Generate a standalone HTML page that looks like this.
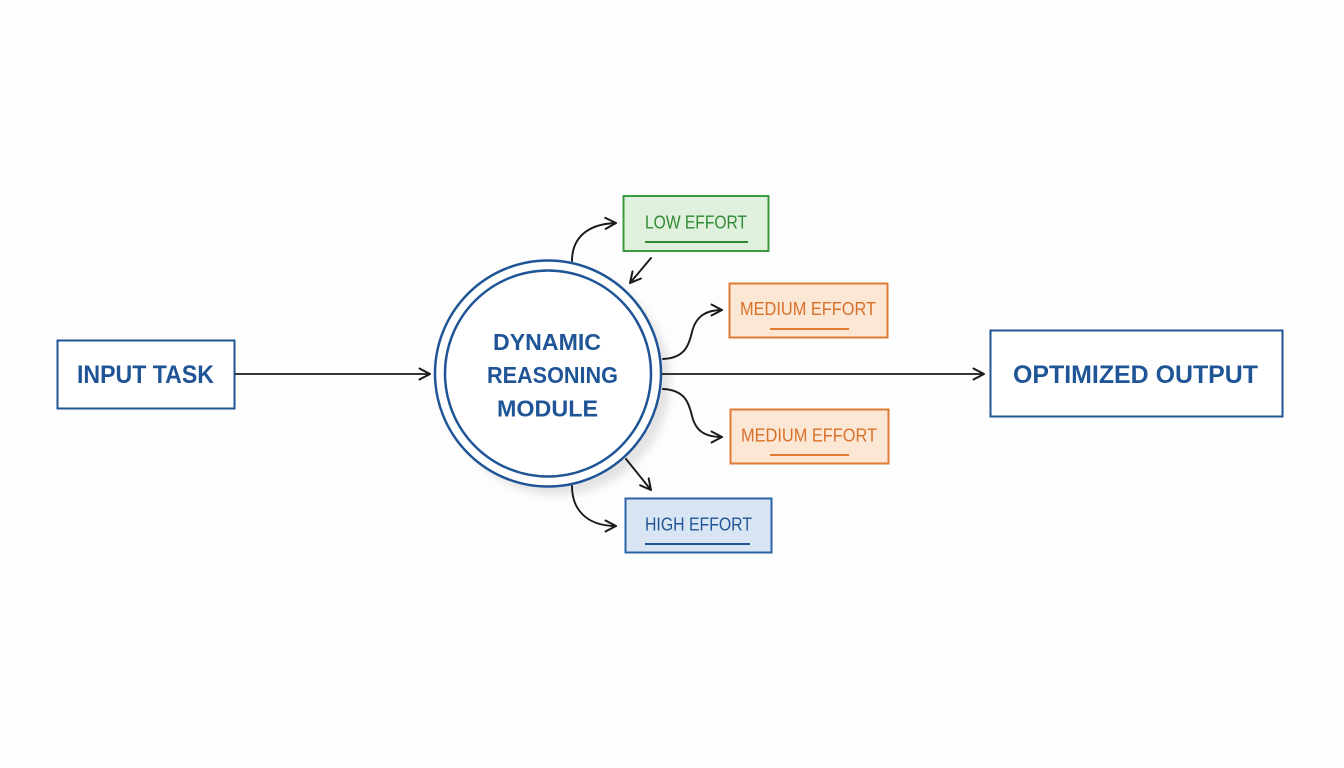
<!DOCTYPE html>
<html><head><meta charset="utf-8"><style>
html,body{margin:0;padding:0;background:#fdfdfd;}
svg{display:block;}
text{font-family:"Liberation Sans",sans-serif;}
</style></head><body>
<svg width="1344" height="768" viewBox="0 0 1344 768" xmlns="http://www.w3.org/2000/svg">
<defs>
<marker id="ah" viewBox="0 0 14 14" refX="12" refY="7" markerWidth="14" markerHeight="14" markerUnits="userSpaceOnUse" orient="auto">
<path d="M1.5,1.5 L12,7 L1.5,12.5" fill="none" stroke="#1a1a1a" stroke-width="2" stroke-linecap="round" stroke-linejoin="round"/>
</marker>
<filter id="blur" x="-20%" y="-20%" width="140%" height="140%"><feGaussianBlur stdDeviation="4"/></filter>
</defs>
<rect width="1344" height="768" fill="#fdfdfd"/>

<!-- Input task -->
<rect x="57.5" y="340.5" width="177" height="68" fill="#fff" stroke="#1f5596" stroke-width="2"/>
<text x="77" y="383" font-size="25" font-weight="bold" fill="#1f5596" textLength="137" lengthAdjust="spacingAndGlyphs">INPUT TASK</text>
<line x1="235" y1="374" x2="430" y2="374" stroke="#1a1a1a" stroke-width="1.8" marker-end="url(#ah)"/>

<!-- circle shadow -->
<circle cx="557" cy="382" r="113" fill="#e3e3e3" filter="url(#blur)"/>
<circle cx="548" cy="373.5" r="113" fill="#fff" stroke="#1f5596" stroke-width="2.5"/>
<circle cx="548" cy="373.5" r="103" fill="#fff" stroke="#1f5596" stroke-width="2.5"/>
<text x="493" y="350" font-size="23" font-weight="bold" fill="#1f5596" textLength="108" lengthAdjust="spacingAndGlyphs">DYNAMIC</text>
<text x="487" y="383" font-size="23" font-weight="bold" fill="#1f5596" textLength="131" lengthAdjust="spacingAndGlyphs">REASONING</text>
<text x="497" y="416.5" font-size="23" font-weight="bold" fill="#1f5596" textLength="101" lengthAdjust="spacingAndGlyphs">MODULE</text>

<!-- output arrow -->
<line x1="662" y1="374" x2="984" y2="374" stroke="#1a1a1a" stroke-width="1.8" marker-end="url(#ah)"/>

<!-- Optimized output -->
<rect x="990.5" y="330.5" width="292" height="86" fill="#fff" stroke="#1f5596" stroke-width="2"/>
<text x="1013" y="383" font-size="25" font-weight="bold" fill="#1f5596" textLength="245" lengthAdjust="spacingAndGlyphs">OPTIMIZED OUTPUT</text>

<!-- Low effort -->
<rect x="623.5" y="196" width="145" height="55" fill="#dff0dc" stroke="#3b9b3f" stroke-width="2"/>
<text x="645" y="228.5" font-size="18" fill="#2f8a33" textLength="102" lengthAdjust="spacingAndGlyphs">LOW EFFORT</text>
<line x1="645" y1="242" x2="748" y2="242" stroke="#2f8a33" stroke-width="2"/>

<!-- Medium 1 -->
<rect x="729.5" y="283.5" width="158" height="54" fill="#fce6d4" stroke="#e07b33" stroke-width="2"/>
<text x="740" y="315" font-size="18" fill="#d9702a" textLength="136" lengthAdjust="spacingAndGlyphs">MEDIUM EFFORT</text>
<line x1="770" y1="329" x2="849" y2="329" stroke="#e07b33" stroke-width="2"/>

<!-- Medium 2 -->
<rect x="730.5" y="409.5" width="158" height="54" fill="#fce6d4" stroke="#e07b33" stroke-width="2"/>
<text x="741" y="441.5" font-size="18" fill="#d9702a" textLength="136" lengthAdjust="spacingAndGlyphs">MEDIUM EFFORT</text>
<line x1="770" y1="455" x2="849" y2="455" stroke="#e07b33" stroke-width="2"/>

<!-- High effort -->
<rect x="625.5" y="498.5" width="146" height="54" fill="#dae5f3" stroke="#2a63a8" stroke-width="2"/>
<text x="645" y="530.5" font-size="18" fill="#1f5596" textLength="107" lengthAdjust="spacingAndGlyphs">HIGH EFFORT</text>
<line x1="645" y1="544" x2="750" y2="544" stroke="#1f5596" stroke-width="2"/>

<!-- connectors -->
<g fill="none" stroke="#1a1a1a" stroke-width="1.9" stroke-linecap="round">
<path d="M572,261 C572,240 585,224 616,223" marker-end="url(#ah)"/>
<path d="M651,258 L630,283" marker-end="url(#ah)"/>
<path d="M663,359 C685,358 689,345 692,332 C696,316 706,310 722,310" marker-end="url(#ah)"/>
<path d="M663,389 C685,390 689,403 692,416 C696,432 706,437 722,437" marker-end="url(#ah)"/>
<path d="M626,459 L651,490" marker-end="url(#ah)"/>
<path d="M572,486 C572,508 585,526 616,526" marker-end="url(#ah)"/>
</g>
</svg>
</body></html>
